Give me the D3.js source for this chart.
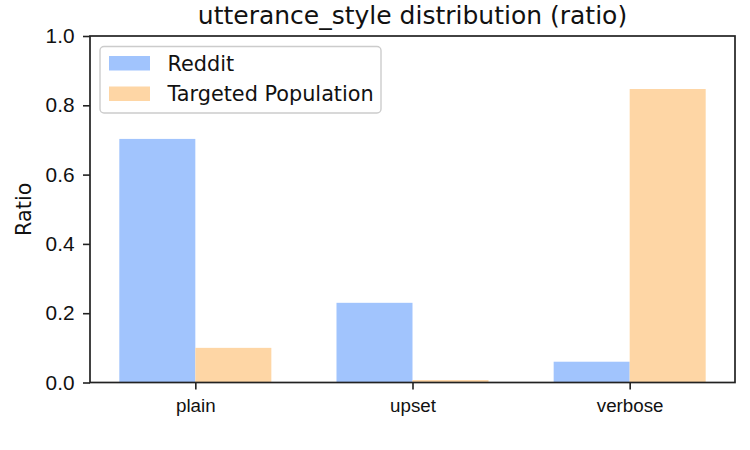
<!DOCTYPE html>
<html><head><meta charset="utf-8">
<script src="https://cdn.jsdelivr.net/npm/d3@7"></script>
<style>body{margin:0;background:#fff}svg{display:block;font-family:"DejaVu Sans",sans-serif}</style>
</head><body>
<svg id="chart" width="750" height="450"></svg>
<script>
const categories = ["plain", "upset", "verbose"];
const seriesNames = ["Reddit", "Targeted Population"];
const redditValues = [0.703, 0.230, 0.060];
const targetedValues = [0.100, 0.007, 0.847];
const yTicks = [0.0, 0.2, 0.4, 0.6, 0.8, 1.0];
const colors = ["#a1c4fd", "#fed6a5"];
const title = "utterance_style distribution (ratio)";
const yLabel = "Ratio";

const svg = d3.select("#chart");
const L = 90, R = 735, T = 36, B = 382.5;
const barW = 0.35;
const x = d3.scaleLinear().domain([-0.485, 2.485]).range([L, R]);
const y = d3.scaleLinear().domain([0, 1]).range([B, T]);
const series = [redditValues, targetedValues];

// bars
series.forEach((vals, si) => {
  svg.append("g").selectAll("rect").data(vals).join("rect")
    .attr("x", (d, i) => x(i + (si === 0 ? -barW : 0)))
    .attr("width", x(barW) - x(0))
    .attr("y", d => y(d))
    .attr("height", d => y(0) - y(d))
    .attr("fill", colors[si]);
});

// y axis
const yAxis = svg.append("g").attr("transform", `translate(${L},0)`)
  .call(d3.axisLeft(y).tickValues(yTicks).tickFormat(d3.format(".1f")).tickSize(7).tickPadding(8.5));
yAxis.select(".domain").remove();
yAxis.selectAll("line").attr("stroke", "#222").attr("stroke-width", 1.6);
yAxis.selectAll("text").attr("font-size", "20.8px").attr("fill", "#111");

// x axis
const xAxis = svg.append("g").attr("transform", `translate(0,${B})`)
  .call(d3.axisBottom(x).tickValues([0, 1, 2]).tickFormat(i => categories[i]).tickSize(7).tickPadding(9));
xAxis.select(".domain").remove();
xAxis.selectAll("line").attr("stroke", "#222").attr("stroke-width", 1.6);
xAxis.selectAll("text").attr("font-size", "18.75px").attr("fill", "#111");

// frame
svg.append("rect").attr("x", L).attr("y", T).attr("width", R - L).attr("height", B - T)
  .attr("fill", "none").attr("stroke", "#222").attr("stroke-width", 1.7);

// title
svg.append("text").attr("x", (L + R) / 2).attr("y", 24).attr("text-anchor", "middle")
  .attr("font-size", "25px").attr("fill", "#111").text(title);

// y label
svg.append("text").attr("transform", `translate(31,${(T + B) / 2}) rotate(-90)`)
  .attr("text-anchor", "middle").attr("font-size", "20.8px").attr("fill", "#111").text(yLabel);

// legend
const lg = svg.append("g");
lg.append("rect").attr("x", 100).attr("y", 46.5).attr("width", 281).attr("height", 66.5)
  .attr("rx", 4).attr("fill", "#fff").attr("fill-opacity", 0.8).attr("stroke", "#ccc").attr("stroke-width", 1.4);
seriesNames.forEach((name, i) => {
  const yy = 56 + i * 30.5;
  lg.append("rect").attr("x", 109).attr("y", yy).attr("width", 41).attr("height", 14.5).attr("fill", colors[i]);
  lg.append("text").attr("x", 167.5).attr("y", yy + 14.7).attr("font-size", "20.8px").attr("fill", "#111").text(name);
});
</script>
</body></html>
